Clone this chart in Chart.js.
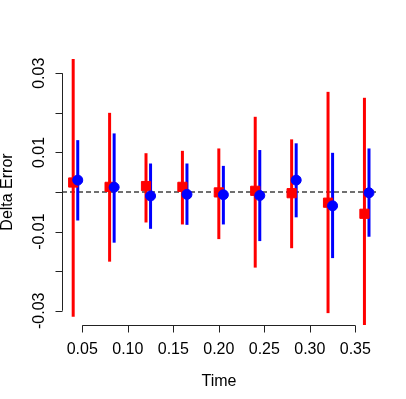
<!DOCTYPE html>
<html>
<head>
<meta charset="utf-8">
<script src="https://cdn.jsdelivr.net/npm/chart.js@4.4.1/dist/chart.umd.min.js"></script>
<style>
  html, body { margin: 0; padding: 0; background: #fff; }
  canvas { display: block; }
</style>
</head>
<body>
<canvas id="chart" width="406" height="399"></canvas>
<script>
// 데이터
const times = [0.04, 0.08, 0.12, 0.16, 0.20, 0.24, 0.28, 0.32, 0.36];
const blueShift = 0.005;

const redMean = [0.0024, 0.0013, 0.0015, 0.0013, -0.0001, 0.0003, -0.0003, -0.0027, -0.0055];
const redLow  = [-0.0315, -0.0176, -0.0077, -0.0082, -0.0119, -0.0191, -0.0142, -0.0306, -0.0337];
const redHigh = [0.0338, 0.0200, 0.0098, 0.0104, 0.0110, 0.0190, 0.0133, 0.0253, 0.0238];

const blueMean = [0.0030, 0.0012, -0.0010, -0.0006, -0.0007, -0.0009, 0.0030, -0.0035, -0.0002];
const blueLow  = [-0.0072, -0.0128, -0.0093, -0.0083, -0.0082, -0.0124, -0.0064, -0.0167, -0.0113];
const blueHigh = [0.0131, 0.0148, 0.0072, 0.0072, 0.0066, 0.0106, 0.0123, 0.0099, 0.0110];

const xTicks = [0.05, 0.10, 0.15, 0.20, 0.25, 0.30, 0.35];
const yTicks = [-0.03, -0.02, -0.01, 0.00, 0.01, 0.02, 0.03];
const yLabelTicks = [-0.03, -0.01, 0.01, 0.03];

const FONT = '16px "Liberation Sans", Arial, sans-serif';

// 오차 막대 + 기준선
const errorBars = {
    id: 'errorBars',
    beforeDatasetsDraw(chart) {
        const { ctx, chartArea: a, scales: { x, y } } = chart;
        ctx.save();
        ctx.beginPath();
        ctx.rect(a.left, a.top, a.right - a.left, a.bottom - a.top);
        ctx.clip();

        // y = 0 점선
        ctx.strokeStyle = '#707070';
        ctx.lineWidth = 2;
        ctx.setLineDash([5, 3]);
        ctx.beginPath();
        ctx.moveTo(a.left, y.getPixelForValue(0));
        ctx.lineTo(a.right, y.getPixelForValue(0));
        ctx.stroke();
        ctx.setLineDash([]);

        ctx.lineWidth = 3;
        times.forEach((t, i) => {
            ctx.strokeStyle = '#ff0000';
            ctx.beginPath();
            ctx.moveTo(x.getPixelForValue(t), y.getPixelForValue(redLow[i]));
            ctx.lineTo(x.getPixelForValue(t), y.getPixelForValue(redHigh[i]));
            ctx.stroke();
            ctx.strokeStyle = '#0000ff';
            ctx.beginPath();
            ctx.moveTo(x.getPixelForValue(t + blueShift), y.getPixelForValue(blueLow[i]));
            ctx.lineTo(x.getPixelForValue(t + blueShift), y.getPixelForValue(blueHigh[i]));
            ctx.stroke();
        });
        ctx.restore();
    }
};

// R 스타일 축
const rAxes = {
    id: 'rAxes',
    afterDraw(chart) {
        const { ctx, chartArea: a, scales: { x, y } } = chart;
        ctx.save();
        ctx.strokeStyle = '#222';
        ctx.fillStyle = '#000';
        ctx.lineWidth = 1;
        ctx.font = FONT;

        // x축
        const xb = Math.round(a.bottom) + 0.5;
        ctx.beginPath();
        ctx.moveTo(x.getPixelForValue(xTicks[0]), xb);
        ctx.lineTo(x.getPixelForValue(xTicks[xTicks.length - 1]), xb);
        xTicks.forEach(v => {
            const px = Math.round(x.getPixelForValue(v)) + 0.5;
            ctx.moveTo(px, xb);
            ctx.lineTo(px, xb + 7);
        });
        ctx.stroke();
        ctx.textAlign = 'center';
        ctx.textBaseline = 'alphabetic';
        xTicks.forEach(v => {
            ctx.fillText(v.toFixed(2), x.getPixelForValue(v), 354);
        });
        ctx.fillText('Time', (a.left + a.right) / 2, 386);

        // y축
        const yl = Math.round(a.left) + 0.5;
        ctx.beginPath();
        ctx.moveTo(yl, y.getPixelForValue(yTicks[0]));
        ctx.lineTo(yl, y.getPixelForValue(yTicks[yTicks.length - 1]));
        yTicks.forEach(v => {
            const py = Math.round(y.getPixelForValue(v)) + 0.5;
            ctx.moveTo(yl, py);
            ctx.lineTo(yl - 7, py);
        });
        ctx.stroke();
        yLabelTicks.forEach(v => {
            ctx.save();
            ctx.translate(43.5, y.getPixelForValue(v));
            ctx.rotate(-Math.PI / 2);
            ctx.fillText(v.toFixed(2), 0, 0);
            ctx.restore();
        });
        ctx.save();
        ctx.translate(12, (a.top + a.bottom) / 2);
        ctx.rotate(-Math.PI / 2);
        ctx.fillText('Delta Error', 0, 0);
        ctx.restore();

        ctx.restore();
    }
};

new Chart(document.getElementById('chart'), {
    type: 'scatter',
    data: {
        datasets: [
            {
                label: 'red',
                data: times.map((t, i) => ({ x: t, y: redMean[i] })),
                pointStyle: 'rect',
                pointRadius: 6.5,
                backgroundColor: '#ff0000',
                borderColor: '#ff0000',
                borderWidth: 1,
                order: 2
            },
            {
                label: 'blue',
                data: times.map((t, i) => ({ x: t + blueShift, y: blueMean[i] })),
                pointStyle: 'circle',
                pointRadius: 5,
                backgroundColor: '#0000ff',
                borderColor: '#0000ff',
                borderWidth: 1,
                order: 1
            }
        ]
    },
    options: {
        responsive: false,
        animation: false,
        devicePixelRatio: 1,
        layout: { padding: { left: 62, right: 30, top: 59, bottom: 74 } },
        scales: {
            x: { type: 'linear', min: 0.0277, max: 0.3727, display: false },
            y: { type: 'linear', min: -0.0336, max: 0.0336, display: false }
        },
        plugins: {
            legend: { display: false },
            tooltip: { enabled: false }
        }
    },
    plugins: [errorBars, rAxes]
});
</script>
</body>
</html>
